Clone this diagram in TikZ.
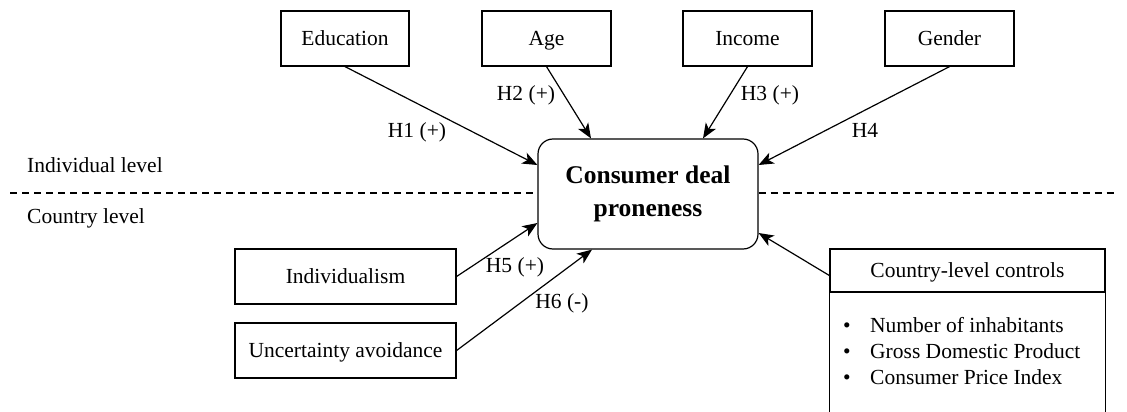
\documentclass[tikz,border=0pt]{standalone}
\usepackage{fontspec}
\setmainfont{Liberation Serif}
\usetikzlibrary{arrows.meta}
\begin{document}
\begin{tikzpicture}[x=1pt,y=-1pt,
  every node/.style={font=\fontsize{21.5}{26}\selectfont, inner sep=0pt},
  item/.style={text height=14pt, text depth=0pt},
  box/.style={draw, line width=1.2pt, minimum height=55pt, item},
  mainbox/.style={draw, line width=1.2pt, rounded corners=15pt, minimum width=220pt, minimum height=110pt, align=center, font=\fontsize{25.5}{33}\selectfont\bfseries},
  conn/.style={line width=1.2pt, -{Stealth[length=15pt,width=12pt,inset=4pt]}},
  lbl/.style={},
  sep/.style={line width=1.1pt, dash pattern=on 7pt off 5pt}
]
\useasboundingbox (0,0) rectangle (1127,412);
\clip (0,0) rectangle (1127,412);

\node[box, minimum width=128pt] (edu) at (345,38.5) {Education};
\node[box, minimum width=129pt] (age) at (546.5,38.5) {Age};
\node[box, minimum width=129pt] (inc) at (747.5,38.5) {Income};
\node[box, minimum width=129pt] (gen) at (949.5,38.5) {Gender};

\node[mainbox] (main) at (648,194) {Consumer deal\\proneness};

\node[box, minimum width=221pt] (ind) at (345.5,276.5) {Individualism};
\node[box, minimum width=221pt] (unc) at (345.5,350.5) {Uncertainty avoidance};

\node[draw, line width=1.2pt, minimum width=275pt, minimum height=43pt, item] (ctrl) at (967.5,270.5) {Country-level controls};
\draw[line width=1.2pt] (ctrl.south west) -- ++(0,130);
\draw[line width=1.2pt] (ctrl.south east) -- ++(0,130);

\node[item] (b1) at (847,325) {\textbullet};
\node[item, anchor=west] (t1) at (870,325) {Number of inhabitants};
\node[item] (b2) at (847,351) {\textbullet};
\node[item, anchor=west] (t2) at (870,351) {Gross Domestic Product};
\node[item] (b3) at (847,377) {\textbullet};
\node[item, anchor=west] (t3) at (870,377) {Consumer Price Index};

\coordinate (dl) at (10,193);
\coordinate (dr) at (1118,193);
\draw[sep] (dl) -- (main.west |- dl);
\draw[sep] (main.east |- dr) -- (dr);

\node[anchor=west] (il) at (27,165) {Individual level};
\node[anchor=west] (cl) at (27,218) {Country level};

\draw[conn] (edu.south) -- ([yshift=29pt]main.west);
\draw[conn] (age.south) -- ([xshift=-57pt]main.north);
\draw[conn] (inc.south) -- ([xshift=55pt]main.north);
\draw[conn] (gen.south) -- ([yshift=29pt]main.east);
\draw[conn] (ind.east) -- ([yshift=-29pt]main.west);
\draw[conn] (unc.east) -- ([xshift=-56pt]main.south);
\draw[conn] ([yshift=-5pt]ctrl.west) -- ([yshift=-39pt]main.east);

\node[lbl] (h1) at (417,132) {H1 (+)};
\node[lbl] (h2) at (526,95) {H2 (+)};
\node[lbl] (h3) at (770,95) {H3 (+)};
\node[lbl] (h4) at (865,130) {H4};
\node[lbl] (h5) at (515,267) {H5 (+)};
\node[lbl] (h6) at (562,303) {H6 (-)};
\end{tikzpicture}
\end{document}
